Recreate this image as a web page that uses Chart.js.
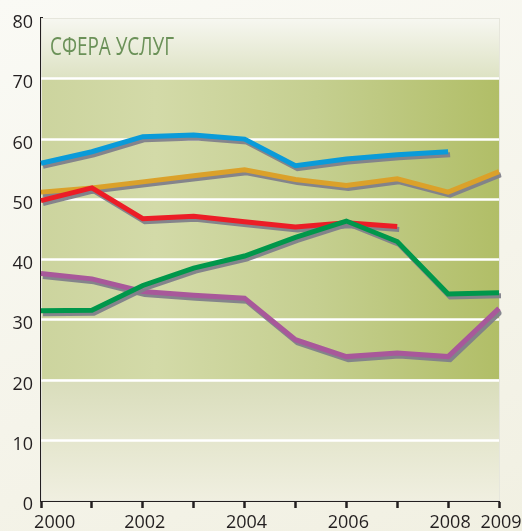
<!DOCTYPE html>
<html>
<head>
<meta charset="utf-8">
<script src="https://cdn.jsdelivr.net/npm/chart.js@4"></script>
<style>
  html, body { margin: 0; padding: 0; }
  body {
    width: 522px; height: 531px; overflow: hidden;
    background: linear-gradient(160deg, #fafaf5 0%, #f5f4ea 60%, #f1f0e2 100%);
  }
  #wrap { position: relative; width: 522px; height: 531px; }
</style>
</head>
<body>
<div id="wrap"><canvas id="servicesChart" width="522" height="531"></canvas></div>
<script>
// chart data
const years = ['2000', '2001', '2002', '2003', '2004', '2005', '2006', '2007', '2008', '2009'];
const shownYears = ['2000', '2002', '2004', '2006', '2008', '2009'];
const yTicks = [0, 10, 20, 30, 40, 50, 60, 70, 80];
const title = 'СФЕРА УСЛУГ';

const greenSeries = [31.4, 31.5, 35.6, 38.5, 40.5, 43.6, 46.3, 42.9, 34.2, 34.4];
const redSeries = [49.7, 51.8, 46.7, 47.1, 46.2, 45.3, 46.0, 45.4, null, null];
const purpleSeries = [37.6, 36.7, 34.6, 34.0, 33.5, 26.6, 23.8, 24.4, 23.8, 31.8];
const orangeSeries = [51.1, 51.8, 52.8, 53.8, 54.8, 53.2, 52.2, 53.3, 51.1, 54.5];
const blueSeries = [55.9, 57.8, 60.3, 60.6, 59.9, 55.5, 56.6, 57.3, 57.8, null];

document.addEventListener('DOMContentLoaded', function() {
  const ctx = document.getElementById('servicesChart').getContext('2d');

  function line(data, color) {
    return {
      data: data,
      borderColor: color,
      borderWidth: 5,
      borderCapStyle: 'butt',
      borderJoinStyle: 'miter',
      pointRadius: 0,
      tension: 0,
      spanGaps: false,
      fill: false
    };
  }

  // banded background of the plot area
  const plotBackground = {
    id: 'plotBackground',
    beforeDatasetsDraw(chart) {
      const c = chart.ctx;
      const a = chart.chartArea;
      const y = chart.scales.y;
      const y70 = y.getPixelForValue(70);
      const y20 = y.getPixelForValue(20);
      c.save();
      let g = c.createLinearGradient(0, a.top, 0, y70);
      g.addColorStop(0, '#f7f7f1');
      g.addColorStop(1, '#dde2c3');
      c.fillStyle = g;
      c.fillRect(a.left, a.top, a.right - a.left, y70 - a.top);

      g = c.createLinearGradient(a.left, 0, a.right, 0);
      g.addColorStop(0, '#ccd49e');
      g.addColorStop(0.25, '#d3daa8');
      g.addColorStop(0.6, '#c5cf90');
      g.addColorStop(1, '#b1be67');
      c.fillStyle = g;
      c.fillRect(a.left, y70, a.right - a.left, y20 - y70);

      g = c.createLinearGradient(0, y20, 0, a.bottom);
      g.addColorStop(0, '#d9ddbb');
      g.addColorStop(1, '#f0efe0');
      c.fillStyle = g;
      c.fillRect(a.left, y20, a.right - a.left, a.bottom - y20);

      c.strokeStyle = '#e6e6dc';
      c.lineWidth = 1;
      c.strokeRect(a.left + 0.5, a.top + 0.5, a.right - a.left, a.bottom - a.top);

      // white grid lines above the fill
      c.strokeStyle = '#ffffff';
      c.lineWidth = 2.5;
      for (let v = 10; v <= 70; v += 10) {
        const py = Math.round(y.getPixelForValue(v)) + 0.5;
        c.beginPath();
        c.moveTo(a.left, py);
        c.lineTo(a.right, py);
        c.stroke();
      }

      c.font = '25px "Open Sans", sans-serif';
      c.fillStyle = '#6b9158';
      c.textBaseline = 'alphabetic';
      c.textAlign = 'left';
      c.fillText(title, a.left + 9, 55, 124);
      c.restore();
    }
  };

  // gray drop shadow under every line
  const lineShadow = {
    id: 'lineShadow',
    beforeDatasetDraw(chart) {
      const c = chart.ctx;
      c.save();
      c.shadowColor = 'rgba(128, 128, 138, 0.95)';
      c.shadowOffsetX = 2;
      c.shadowOffsetY = 3;
      c.shadowBlur = 0;
    },
    afterDatasetDraw(chart) {
      chart.ctx.restore();
    }
  };

  new Chart(ctx, {
    type: 'line',
    data: {
      labels: years,
      datasets: [
        line(greenSeries, '#00974b'),
        line(redSeries, '#ec1d26'),
        line(blueSeries, '#0a9bd9'),
        line(orangeSeries, '#dba12a'),
        line(purpleSeries, '#a8589a')
      ]
    },
    plugins: [plotBackground, lineShadow],
    options: {
      responsive: false,
      animation: false,
      layout: { padding: { top: 18, right: 23, left: 0, bottom: 0 } },
      plugins: {
        legend: { display: false },
        tooltip: { enabled: false }
      },
      scales: {
        x: {
          type: 'category',
          offset: false,
          border: { display: true, color: '#231f20', width: 3 },
          grid: {
            drawOnChartArea: false,
            drawTicks: true,
            tickLength: 8,
            tickWidth: 2.5,
            tickColor: '#231f20'
          },
          ticks: {
            autoSkip: false,
            maxRotation: 0,
            padding: 4,
            labelOffset: 2,
            color: '#231f20',
            font: { family: '"Open Sans", sans-serif', size: 18 },
            callback: function(value) {
              const lab = years[value];
              if (lab === '2000') return '     ' + lab;
              return shownYears.includes(lab) ? lab : '';
            }
          },
          afterFit: function(scale) {
            scale.height = 31;
            scale.paddingLeft = 0;
            scale.paddingRight = 0;
          }
        },
        y: {
          min: 0,
          max: 80,
          afterBuildTicks: function(scale) {
            scale.ticks = yTicks.map(v => ({ value: v }));
          },
          border: { display: true, color: '#231f20', width: 3 },
          grid: { display: false, drawTicks: false },
          ticks: {
            padding: 8,
            labelOffset: 5,
            color: '#231f20',
            font: { family: '"Open Sans", sans-serif', size: 18 }
          },
          afterFit: function(scale) {
            scale.width = 41;
            scale.paddingTop = 0;
            scale.paddingBottom = 0;
          }
        }
      }
    }
  });
});
</script>
</body>
</html>
